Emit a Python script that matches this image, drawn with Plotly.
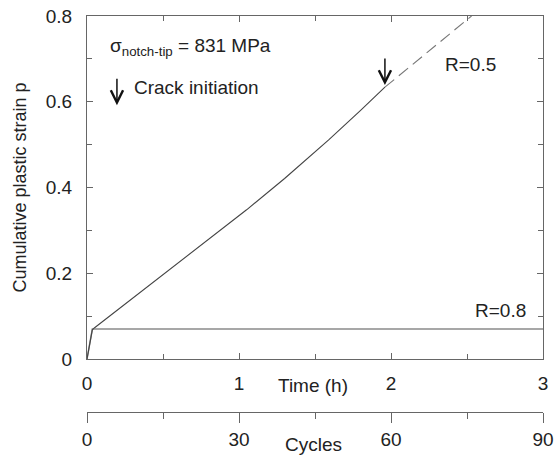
import plotly.graph_objects as go

# R=0.5 curve (solid part up to crack initiation, then dashed)
time_r05 = [0, 0.035, 0.05, 0.3, 0.68, 1.05, 1.3, 1.59, 1.8, 1.96]
p_r05 = [0, 0.068, 0.073, 0.142, 0.247, 0.348, 0.421, 0.511, 0.580, 0.634]
time_r05_dash = [1.96, 2.53]
p_r05_dash = [0.634, 0.80]

# R=0.8 curve
time_r08 = [0, 0.035, 3.0]
p_r08 = [0, 0.070, 0.070]

crack_time = 1.96
crack_p = 0.639

time_ticks = [0, 1, 2, 3]
cycle_ticks = [0, 30, 60, 90]
p_ticks = [0, 0.2, 0.4, 0.6, 0.8]
p_ticklabels = ["0", "0.2", "0.4", "0.6", "0.8"]

FONT = "Liberation Sans, Arial, sans-serif"
TXT = "#222222"
AX = "#666666"

fig = go.Figure()
fig.add_trace(go.Scatter(x=time_r08, y=p_r08, mode="lines",
                         line=dict(color="#8a8a8a", width=1.5),
                         showlegend=False, hoverinfo="skip"))
fig.add_trace(go.Scatter(x=time_r05, y=p_r05, mode="lines",
                         line=dict(color="#444444", width=1.1),
                         showlegend=False, hoverinfo="skip"))
fig.add_trace(go.Scatter(x=time_r05_dash, y=p_r05_dash, mode="lines",
                         line=dict(color="#777777", width=1.1, dash="12px,6px"),
                         showlegend=False, hoverinfo="skip"))
# dummy trace so the cycles axis gets drawn
fig.add_trace(go.Scatter(x=[0, 90], y=[None, None], xaxis="x2", mode="lines",
                         showlegend=False, hoverinfo="skip"))

fig.update_layout(
    width=555, height=457,
    margin=dict(l=87, r=12, t=16, b=40),
    plot_bgcolor="white", paper_bgcolor="white",
    font=dict(family=FONT, size=19, color=TXT),
    xaxis=dict(range=[0, 3], tickvals=time_ticks, ticks="inside", ticklen=6,
               tickcolor=AX, showline=True, linecolor=AX, linewidth=1,
               mirror="ticks", showgrid=False, zeroline=False,
               ticklabelstandoff=7, automargin=False,
               minor=dict(dtick=0.5, ticks="inside", ticklen=5, tickcolor=AX)),
    yaxis=dict(domain=[0.1446, 1], range=[0, 0.8], tickvals=p_ticks,
               ticktext=p_ticklabels, ticks="inside", ticklen=6,
               tickcolor=AX, showline=True, linecolor=AX, linewidth=1,
               mirror="ticks", showgrid=False, zeroline=False,
               ticklabelstandoff=10, automargin=False,
               title=dict(text="Cumulative plastic strain p", standoff=14,
                          font=dict(size=18)),
               minor=dict(dtick=0.1, ticks="inside", ticklen=5, tickcolor=AX)),
    xaxis2=dict(range=[0, 90], tickvals=cycle_ticks, overlaying="x",
                anchor="free", position=0.0125, side="bottom",
                ticks="outside", ticklen=10, tickcolor=AX,
                showline=True, linecolor=AX, linewidth=1,
                showgrid=False, zeroline=False, automargin=False,
                minor=dict(dtick=15, ticks="outside", ticklen=6, tickcolor=AX)),
)

annotations = [
    dict(x=0.138, y=0.727, xref="x", yref="y", xanchor="left", yanchor="middle",
         text="σ<sub>notch-tip</sub> = 831 MPa", showarrow=False,
         font=dict(size=19)),
    dict(x=0.296, y=0.633, xref="x", yref="y", xanchor="left", yanchor="middle",
         text="Crack initiation", showarrow=False, font=dict(size=19)),
    dict(x=0.197, y=0.592, xref="x", yref="y", text="", showarrow=True,
         ax=0, ay=-28, arrowhead=5, arrowsize=1.6, arrowwidth=1.5,
         arrowcolor="#111111"),
    dict(x=crack_time, y=crack_p, xref="x", yref="y", text="", showarrow=True,
         ax=0, ay=-28, arrowhead=5, arrowsize=1.6, arrowwidth=1.5,
         arrowcolor="#111111"),
    dict(x=2.34, y=0.686, xref="x", yref="y", xanchor="left", yanchor="middle",
         text="R=0.5", showarrow=False, font=dict(size=19)),
    dict(x=2.54, y=0.114, xref="x", yref="y", xanchor="left", yanchor="middle",
         text="R=0.8", showarrow=False, font=dict(size=19)),
    dict(x=1.487, y=0.0798, xref="x", yref="paper", xanchor="center",
         yanchor="middle", text="Time (h)", showarrow=False, font=dict(size=19)),
    dict(x=1.487, y=-0.0698, xref="x", yref="paper", xanchor="center",
         yanchor="middle", text="Cycles", showarrow=False, font=dict(size=19)),
]
fig.update_layout(annotations=annotations)

fig.write_html("out.html", config={"displayModeBar": False},
               post_script="document.body.style.margin='0';"
                           "document.body.style.overflow='hidden';")
